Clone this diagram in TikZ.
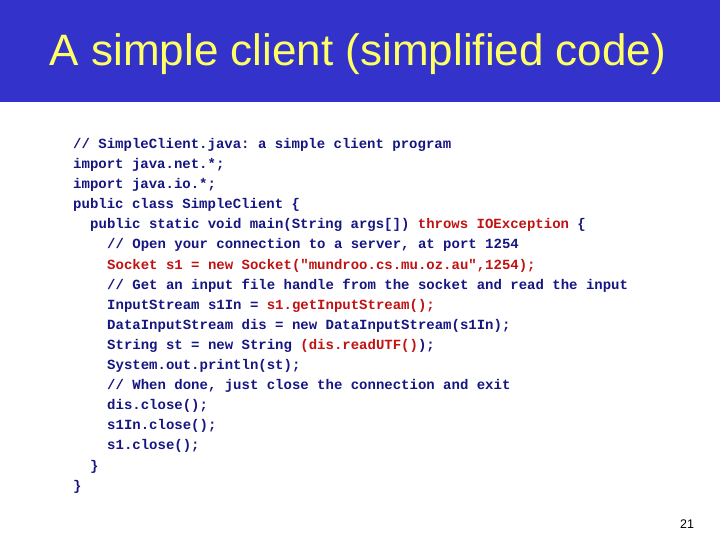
\documentclass[tikz,border=0pt]{standalone}
\usepackage{fontspec}
\setmainfont{Liberation Sans}
\newfontfamily\codefont{Liberation Mono}
\usepackage{tikz}

\definecolor{titlebar}{RGB}{51,51,204}
\definecolor{titletext}{RGB}{255,255,102}
\definecolor{codeblue}{RGB}{22,22,130}
\definecolor{codered}{RGB}{192,18,18}
\newcommand{\rd}[1]{\textcolor{codered}{#1}}
\frenchspacing

\begin{document}
\begin{tikzpicture}[x=1pt,y=1pt,
	codeline/.style={anchor=base west, inner sep=0pt, text=codeblue,
		font=\codefont\bfseries\fontsize{14}{16}\selectfont}]
	%\draw[help lines] (0,0) grid[step=20] (720,540);
	\useasboundingbox (0,0) rectangle (720,540);
	\fill[white] (0,0) rectangle (720,540);
	\fill[titlebar] (0,438) rectangle (720,540);
	\node (title) at (358,474) [anchor=base, inner sep=0pt, text=titletext,
		font=\fontsize{44}{50}\selectfont] {A simple client (simplified code)};
	% the code
	\node (l1) at (73,391.5) [codeline] {// SimpleClient.java: a simple client program};
	\node (l2) at (73,371.4) [codeline] {import java.net.*;};
	\node (l3) at (73,351.3) [codeline] {import java.io.*;};
	\node (l4) at (73,331.2) [codeline] {public class SimpleClient \{};
	\node (l5) at (90,311.1) [codeline] {public static void main(String args[]) \rd{throws IOException} \{};
	\node (l6) at (107,291.0) [codeline] {// Open your connection to a server, at port 1254};
	\node (l7) at (107,270.9) [codeline] {\rd{Socket s1 = new Socket("mundroo.cs.mu.oz.au",1254);}};
	\node (l8) at (107,250.8) [codeline] {// Get an input file handle from the socket and read the input};
	\node (l9) at (107,230.7) [codeline] {InputStream s1In = \rd{s1.getInputStream();}};
	\node (l10) at (107,210.6) [codeline] {DataInputStream dis = new DataInputStream(s1In);};
	\node (l11) at (107,190.5) [codeline] {String st = new String \rd{(dis.readUTF()});};
	\node (l12) at (107,170.4) [codeline] {System.out.println(st);};
	\node (l13) at (107,150.3) [codeline] {// When done, just close the connection and exit};
	\node (l14) at (107,130.2) [codeline] {dis.close();};
	\node (l15) at (107,110.1) [codeline] {s1In.close();};
	\node (l16) at (107,90.0) [codeline] {s1.close();};
	\node (l17) at (90,69.9) [codeline] {\}};
	\node (l18) at (73,49.8) [codeline] {\}};
	\node (pagenum) at (687,11) [anchor=base, inner sep=0pt,
		font=\fontsize{12.5}{14}\selectfont] {21};
\end{tikzpicture}
\end{document}
